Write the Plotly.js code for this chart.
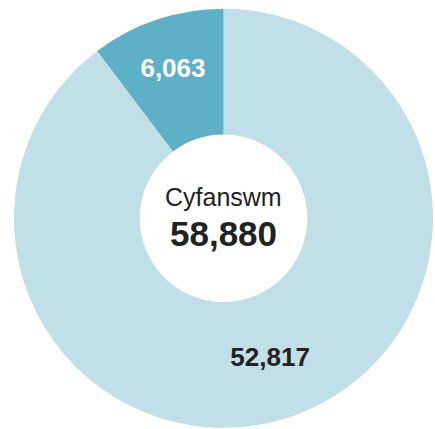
<!DOCTYPE html>
<html>
<head>
<meta charset="utf-8">
<script src="https://cdn.plot.ly/plotly-3.0.1.min.js"></script>
<style>
html,body{margin:0;padding:0;background:#fff;}
#chart{width:435px;height:429px;}
</style>
</head>
<body>
<div id="chart"></div>
<script>
var categories = ["Grŵp B", "Grŵp A"];
var values = [52817, 6063];
var sliceColors = ["#c1dfe6", "#5eb0c6"];
var labelColors = ["#222222", "#ffffff"];
var totalLabel = "Cyfanswm";

var total = values.reduce(function(a, b){ return a + b; }, 0);
function fmt(n){ return n.toLocaleString("en-GB"); }

var trace = {
  type: "pie",
  labels: categories,
  values: values,
  hole: 0.4,
  sort: false,
  direction: "clockwise",
  rotation: 0,
  marker: {colors: sliceColors, line: {width: 0}},
  texttemplate: "<b>%{value:,}</b>",
  textposition: "inside",
  insidetextorientation: "horizontal",
  textfont: {family: "Liberation Sans, Arial, sans-serif", size: 26, color: labelColors},
  hoverinfo: "none",
  showlegend: false,
  domain: {x: [0.0322, 0.9954], y: [0.0023, 0.9802]}
};

var layout = {
  width: 435,
  height: 429,
  margin: {l: 0, r: 0, t: 0, b: 0},
  paper_bgcolor: "#ffffff",
  plot_bgcolor: "#ffffff",
  showlegend: false,
  annotations: [
    {text: totalLabel, x: 0.5127, y: 1 - 197/429, xref: "paper", yref: "paper",
     showarrow: false, xanchor: "center", yanchor: "middle",
     font: {family: "Liberation Sans, Arial, sans-serif", size: 25, color: "#222222"}},
    {text: "<b>" + fmt(total) + "</b>", x: 0.5127, y: 1 - 233/429, xref: "paper", yref: "paper",
     showarrow: false, xanchor: "center", yanchor: "middle",
     font: {family: "Liberation Sans, Arial, sans-serif", size: 35, color: "#222222"}}
  ]
};

Plotly.newPlot("chart", [trace], layout, {displayModeBar: false, staticPlot: true});
</script>
</body>
</html>
